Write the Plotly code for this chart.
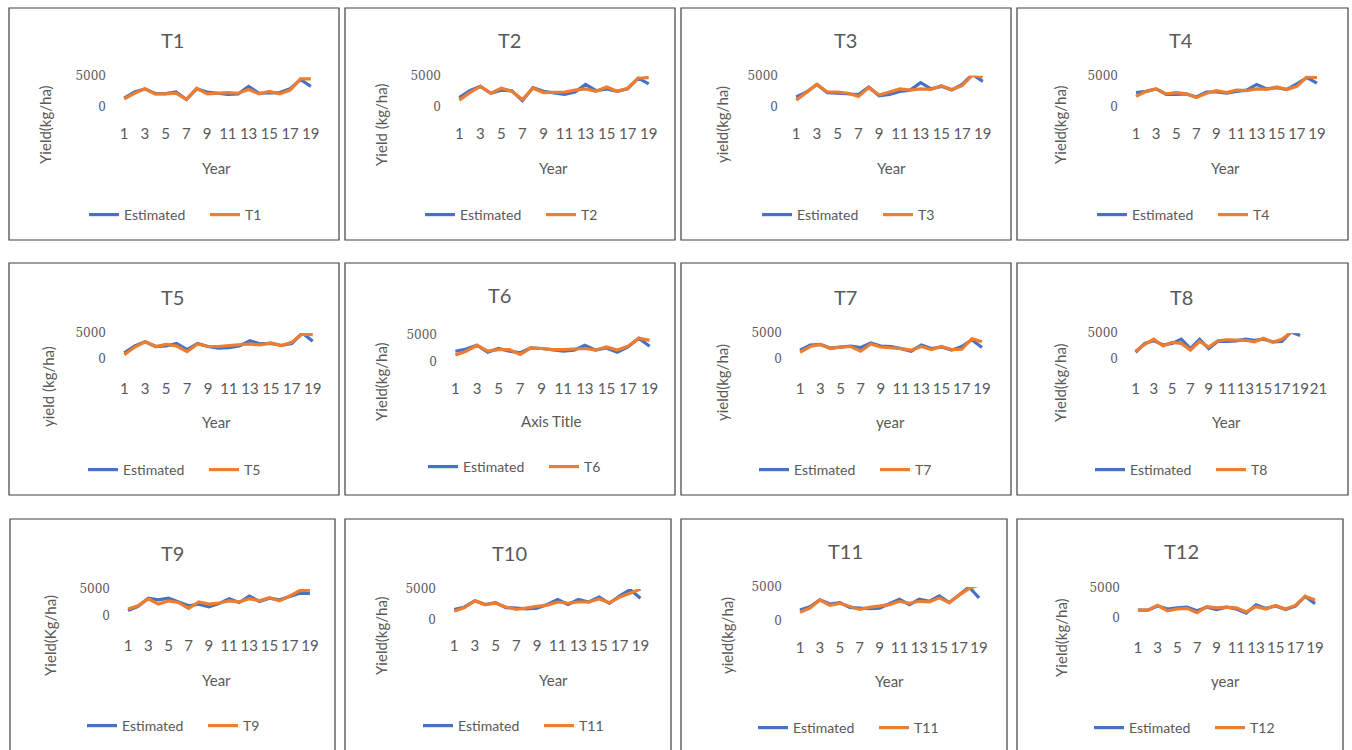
import plotly.graph_objects as go

W, H = 1352, 750

# ---------------- data (kg/ha) ----------------
t1_estimated = [1400, 2400, 2900, 2150, 2150, 2400, 1200, 2900, 2400, 2200, 2000, 2100, 3300, 2200, 2200, 2300, 2900, 4400, 3300]
t1_observed  = [1300, 2200, 2900, 2100, 2100, 2200, 1200, 3000, 2100, 2200, 2300, 2200, 2800, 2100, 2500, 2100, 2700, 4500, 4500]

t2_estimated = [1500, 2600, 3300, 2200, 2700, 2600, 1000, 3100, 2500, 2200, 2000, 2400, 3600, 2600, 2900, 2500, 2900, 4600, 3700]
t2_observed  = [1100, 2300, 3300, 2200, 3000, 2500, 1200, 3000, 2300, 2300, 2400, 2700, 2900, 2500, 3200, 2500, 3000, 4600, 4700]

t3_estimated = [1600, 2400, 3600, 2300, 2200, 2100, 2000, 3200, 1800, 2000, 2500, 2700, 3900, 2900, 3300, 2700, 3600, 5200, 4100]
t3_observed  = [1100, 2300, 3600, 2400, 2400, 2200, 1700, 3100, 1900, 2400, 2900, 2700, 2900, 2800, 3400, 2800, 3400, 5100, 4800]

t4_estimated = [2300, 2500, 2900, 2000, 2000, 2100, 1600, 2400, 2400, 2200, 2500, 2700, 3600, 2900, 3100, 2800, 3700, 4700, 3800]
t4_observed  = [1700, 2500, 2900, 2100, 2300, 2100, 1500, 2200, 2600, 2300, 2700, 2600, 2900, 2800, 3200, 2800, 3300, 4800, 4700]

t5_estimated = [1200, 2500, 3300, 2400, 2500, 3000, 1800, 3000, 2400, 2100, 2200, 2500, 3500, 2900, 3000, 2600, 3000, 5000, 3400]
t5_observed  = [800, 2300, 3300, 2400, 2800, 2500, 1400, 2900, 2400, 2400, 2600, 2800, 2900, 2700, 3100, 2600, 3200, 4800, 4700]

t6_estimated = [2000, 2400, 3100, 1800, 2500, 2000, 1700, 2600, 2500, 2300, 2000, 2200, 3100, 2200, 2600, 1800, 2800, 4400, 2900]
t6_observed  = [1300, 2000, 3100, 2000, 2300, 2300, 1400, 2600, 2500, 2300, 2300, 2400, 2500, 2200, 2800, 2200, 2900, 4400, 4000]

t7_estimated = [1700, 2700, 2800, 2100, 2300, 2500, 2200, 3100, 2500, 2400, 2000, 1500, 2700, 2000, 2300, 1700, 2400, 3700, 2200]
t7_observed  = [1300, 2400, 2800, 2000, 2300, 2400, 1500, 2900, 2300, 2200, 2000, 1700, 2400, 1800, 2400, 1800, 1900, 3900, 3300]

t8_estimated = [1300, 3000, 3500, 2700, 3000, 3800, 2000, 3800, 2000, 3400, 3400, 3500, 3800, 3600, 3800, 3300, 3400, 5200, 4500, None, None]
t8_observed  = [1500, 2800, 3800, 2500, 3200, 3000, 1700, 3400, 2300, 3500, 3700, 3700, 3600, 3300, 4000, 3200, 3800, 5100, 5300, None, None]

t9_estimated = [1000, 1800, 3300, 3000, 3300, 2600, 1900, 2200, 1700, 2300, 3200, 2500, 3700, 2700, 3300, 3000, 3600, 4200, 4200]
t9_observed  = [1300, 1900, 3200, 2200, 2800, 2500, 1400, 2600, 2200, 2400, 2800, 2600, 3200, 2800, 3400, 2800, 3700, 4700, 4800]

t10_estimated = [1700, 2100, 3100, 2500, 2800, 2000, 1900, 1800, 1900, 2500, 3300, 2500, 3300, 2900, 3700, 2700, 3900, 4900, 3500, None]
t10_observed  = [1400, 2000, 3100, 2500, 2700, 2100, 1700, 2000, 2200, 2400, 2900, 2700, 2900, 2900, 3400, 2800, 3700, 4300, 5000, None]

t11_estimated = [1600, 2100, 3100, 2500, 2700, 2000, 1900, 1800, 1900, 2500, 3200, 2400, 3200, 2900, 3700, 2700, 3900, 5000, 3400]
t11_observed  = [1300, 1900, 3100, 2300, 2600, 2100, 1700, 2000, 2200, 2400, 2900, 2600, 2900, 2800, 3400, 2700, 3800, 4800, 5300]

t12_estimated = [1300, 1300, 2000, 1500, 1700, 1800, 1200, 1800, 1400, 1800, 1500, 800, 2200, 1600, 2000, 1400, 2000, 3600, 2400]
t12_observed  = [1300, 1300, 2100, 1200, 1500, 1600, 900, 1900, 1700, 1800, 1700, 1000, 1900, 1500, 2100, 1500, 2100, 3600, 3000]

panel_titles = ["T1", "T2", "T3", "T4", "T5", "T6", "T7", "T8", "T9", "T10", "T11", "T12"]
observed_names = ["T1", "T2", "T3", "T4", "T5", "T6", "T7", "T8", "T9", "T11", "T11", "T12"]
y_titles = ["Yield(kg/ha)", "Yield (kg/ha)", "yield(kg/ha)", "Yield(kg/ha)",
            "yield (kg/ha)", "Yield(kg/ha)", "yield(kg/ha)", "Yield(kg/ha)",
            "Yield(Kg/ha)", "Yield(kg/ha)", "yield(kg/ha)", "Yield(kg/ha)"]
x_titles = ["Year", "Year", "Year", "Year", "Year", "Axis Title", "year", "Year",
            "Year", "Year", "Year", "year"]
n_categories = [19, 19, 19, 19, 19, 19, 19, 21, 19, 20, 19, 19]
y_ticks = [0, 5000]

estimated = [t1_estimated, t2_estimated, t3_estimated, t4_estimated, t5_estimated, t6_estimated,
             t7_estimated, t8_estimated, t9_estimated, t10_estimated, t11_estimated, t12_estimated]
observed = [t1_observed, t2_observed, t3_observed, t4_observed, t5_observed, t6_observed,
            t7_observed, t8_observed, t9_observed, t10_observed, t11_observed, t12_observed]

# ---------------- layout geometry (pixels) ----------------
# leg = (x of first legend line start, legend centre y)
panels = [
    dict(box=(9, 339, 8, 240), plot=(119, 316, 75.7, 107), title=(173, 40), ticky=133, xt=(217, 168), yt=(45, 125), leg=(89, 215)),
    dict(box=(345, 675, 8, 240), plot=(454, 654, 75.7, 107), title=(509, 40), ticky=133, xt=(553, 168), yt=(381, 125), leg=(425, 215)),
    dict(box=(681, 1011, 8, 240), plot=(791, 988, 75.7, 107), title=(845, 40), ticky=133, xt=(891, 168), yt=(722, 125), leg=(762, 215)),
    dict(box=(1017, 1348, 8, 240), plot=(1131, 1322, 75.7, 107), title=(1181, 40), ticky=133, xt=(1225, 168), yt=(1060, 125), leg=(1097, 215)),
    dict(box=(9, 339, 263, 495), plot=(119, 318, 333, 359), title=(173, 297), ticky=388, xt=(217, 422), yt=(48, 387), leg=(88, 470)),
    dict(box=(345, 675, 263, 495), plot=(450, 655, 335, 362), title=(499, 295), ticky=388, xt=(551, 421), yt=(381, 382), leg=(428, 467)),
    dict(box=(681, 1011, 263, 495), plot=(795, 987, 333, 359), title=(845, 297), ticky=388, xt=(890, 422), yt=(722, 383), leg=(759, 470)),
    dict(box=(1017, 1348, 263, 495), plot=(1131, 1323, 333, 359), title=(1181, 297), ticky=388, xt=(1226, 422), yt=(1060, 383), leg=(1095, 470)),
    dict(box=(10, 335, 519, 760), plot=(123, 315, 589, 616), title=(173, 553), ticky=645, xt=(217, 680), yt=(50, 636), leg=(87, 726)),
    dict(box=(345, 671, 519, 760), plot=(449, 656, 589, 620), title=(509, 553), ticky=645, xt=(553, 680), yt=(381, 636), leg=(423, 726)),
    dict(box=(681, 1007, 519, 760), plot=(795, 984, 587, 621), title=(845, 551), ticky=647, xt=(889, 681), yt=(727, 636), leg=(758, 728)),
    dict(box=(1017, 1343, 519, 760), plot=(1133, 1320, 588, 618), title=(1181, 551), ticky=647, xt=(1225, 681), yt=(1061, 638), leg=(1094, 728)),
]

BLUE = "#4472C4"
ORANGE = "#ED7D31"
TEXT = "#595959"
GRID = "#D9D9D9"
FONT = "Lato, Open Sans, sans-serif"


def px(x):
    return x / W


def py(y):
    return 1 - y / H


fig = go.Figure()
shapes = []
annotations = []
layout_extra = {}

for i, p in enumerate(panels):
    k = i + 1
    sfx = "" if k == 1 else str(k)
    n = n_categories[i]
    cats = list(range(1, n + 1))
    legname = "legend" if k == 1 else f"legend{k}"

    fig.add_trace(go.Scatter(
        x=cats, y=estimated[i], mode="lines", name="Estimated",
        line=dict(color=BLUE, width=3.2), xaxis=f"x{sfx}", yaxis=f"y{sfx}",
        legend=legname, connectgaps=False, hoverinfo="skip"))
    fig.add_trace(go.Scatter(
        x=cats, y=observed[i], mode="lines", name=observed_names[i],
        line=dict(color=ORANGE, width=3.2), xaxis=f"x{sfx}", yaxis=f"y{sfx}",
        legend=legname, connectgaps=False, hoverinfo="skip"))

    x0, x1, yt, yb = p["plot"]
    tickvals = cats[::2]
    layout_extra[f"xaxis{sfx}"] = dict(
        domain=[px(x0), px(x1)], anchor=f"y{sfx}", range=[0.5, n + 0.5],
        tickmode="array", tickvals=tickvals, ticktext=[str(v) for v in tickvals],
        tickangle=0, automargin=False,
        showgrid=False, zeroline=False, showline=False, ticks="",
        tickfont=dict(family=FONT, size=15, color=TEXT),
        ticklabelstandoff=max(0, int(p["ticky"] - yb - 10)), fixedrange=True)
    layout_extra[f"yaxis{sfx}"] = dict(
        domain=[py(yb), py(yt)], anchor=f"x{sfx}", range=[0, 5000],
        tickmode="array", tickvals=y_ticks, ticktext=[str(v) for v in y_ticks],
        automargin=False,
        showgrid=True, gridcolor=GRID, gridwidth=1, zeroline=False, showline=False,
        ticks="", tickfont=dict(family="DejaVu Serif, serif", size=12, color=TEXT),
        ticklabelstandoff=12, fixedrange=True)

    lx, ly = p["leg"]
    layout_extra[legname] = dict(
        orientation="h", x=px(lx - 5), y=py(ly), xanchor="left", yanchor="middle",
        font=dict(family=FONT, size=14, color=TEXT), bgcolor="rgba(0,0,0,0)",
        itemwidth=30, entrywidth=76, entrywidthmode="pixels", traceorder="normal")

    bx0, bx1, by0, by1 = p["box"]
    shapes.append(dict(type="rect", xref="paper", yref="paper",
                       x0=px(bx0), x1=px(bx1), y0=py(by1), y1=py(by0),
                       line=dict(color="#404040", width=1.2), fillcolor="rgba(0,0,0,0)",
                       layer="below"))

    tx, ty = p["title"]
    annotations.append(dict(text=panel_titles[i], x=px(tx), y=py(ty), xref="paper", yref="paper",
                            showarrow=False, xanchor="center", yanchor="middle",
                            font=dict(family=FONT, size=20, color=TEXT)))
    ax, ay = p["xt"]
    annotations.append(dict(text=x_titles[i], x=px(ax), y=py(ay), xref="paper", yref="paper",
                            showarrow=False, xanchor="center", yanchor="middle",
                            font=dict(family=FONT, size=15, color=TEXT)))
    yx, yy = p["yt"]
    annotations.append(dict(text=y_titles[i], x=px(yx), y=py(yy), xref="paper", yref="paper",
                            showarrow=False, xanchor="center", yanchor="middle", textangle=-90,
                            font=dict(family=FONT, size=15, color=TEXT)))

fig.update_layout(
    width=W, height=H, margin=dict(l=0, r=0, t=0, b=0, pad=0, autoexpand=False),
    paper_bgcolor="white", plot_bgcolor="white",
    showlegend=True, shapes=shapes, annotations=annotations, **layout_extra)

fig.write_html(
    "out.html",
    config={"displayModeBar": False},
    post_script="document.body.style.margin='0px';document.body.style.overflow='hidden';")
